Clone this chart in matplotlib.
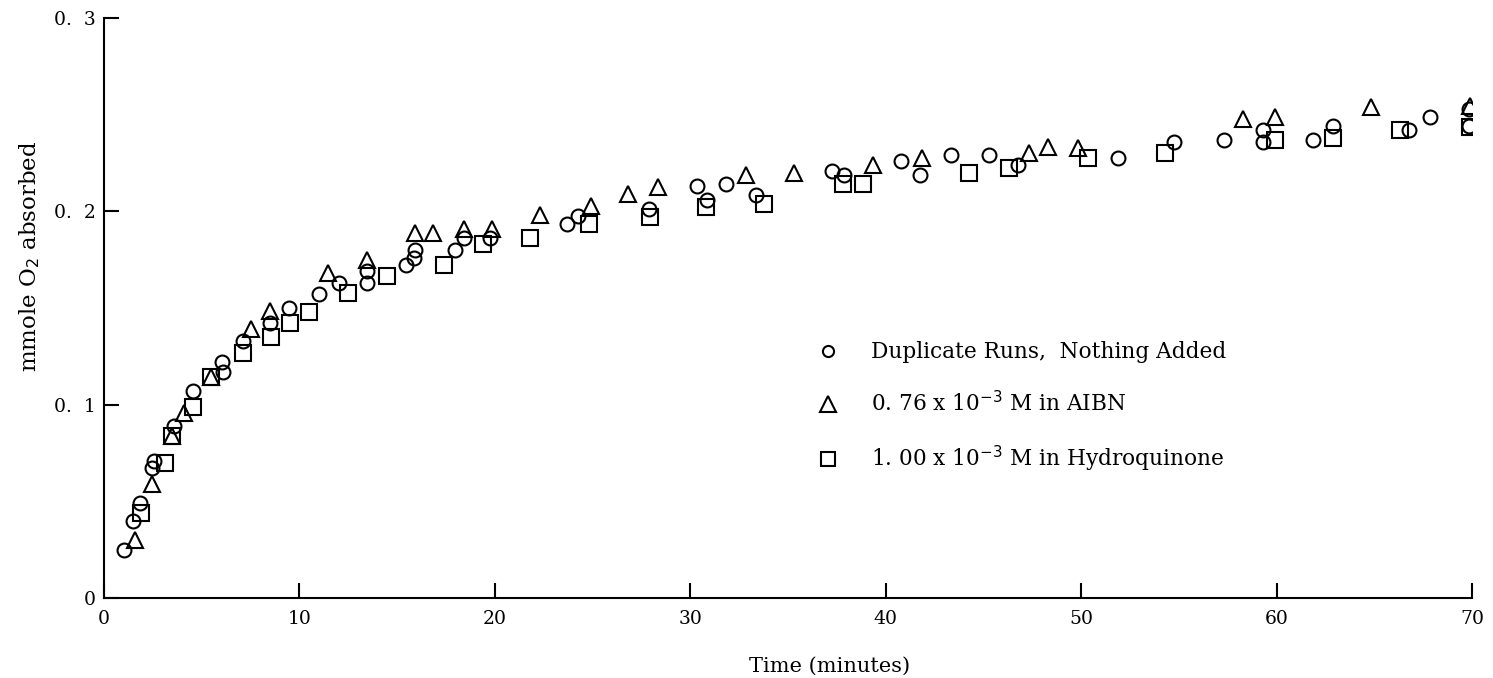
import numpy as np
import matplotlib
matplotlib.use("Agg")
import matplotlib.pyplot as plt
from matplotlib.lines import Line2D

plt.rcParams["font.family"] = ["DejaVu Serif"]

# duplicate runs, nothing added
circ_t = [1.03, 1.49, 1.86, 2.48, 2.55, 3.59, 4.56, 6.1, 6.05, 7.12, 8.49, 9.47,
          11.0, 12.03, 13.45, 13.45, 15.45, 15.84, 15.89, 17.94, 18.4, 19.77,
          23.7, 24.26, 27.88, 30.36, 30.87, 31.85, 33.35, 37.25, 37.88, 40.78,
          41.76, 43.34, 45.31, 46.76, 51.89, 54.74, 57.3, 59.32, 59.32, 61.85,
          62.9, 66.8, 67.86, 69.83, 69.83]
circ_o2 = [0.025, 0.040, 0.049, 0.067, 0.071, 0.089, 0.107, 0.117, 0.122, 0.133,
           0.142, 0.150, 0.157, 0.163, 0.169, 0.163, 0.172, 0.176, 0.180, 0.180,
           0.186, 0.186, 0.1935, 0.1976, 0.201, 0.213, 0.206, 0.214, 0.2085,
           0.221, 0.219, 0.226, 0.219, 0.229, 0.229, 0.224, 0.2275, 0.236,
           0.237, 0.242, 0.236, 0.237, 0.244, 0.242, 0.249, 0.253, 0.244]

# 0.76e-3 M AIBN
tri_t = [1.57, 2.46, 3.49, 4.1, 5.5, 7.52, 8.49, 11.45, 13.45, 15.92, 16.86, 18.4,
         19.85, 22.33, 24.9, 26.82, 28.36, 32.84, 35.31, 39.36, 41.86, 47.33,
         48.3, 49.84, 58.3, 59.92, 64.82, 69.88]
tri_o2 = [0.030, 0.059, 0.084, 0.0955, 0.1145, 0.139, 0.1486, 0.168, 0.175, 0.189,
          0.189, 0.191, 0.191, 0.198, 0.203, 0.209, 0.2125, 0.219, 0.220, 0.224,
          0.2275, 0.230, 0.2335, 0.2326, 0.248, 0.249, 0.254, 0.2545]

# 1.00e-3 M hydroquinone
sq_t = [1.88, 3.1, 3.49, 4.56, 5.5, 7.12, 8.53, 9.52, 10.49, 12.47, 14.47, 17.41,
        19.39, 21.82, 24.84, 27.92, 30.82, 33.78, 37.83, 38.82, 44.28, 46.33,
        50.35, 54.28, 59.92, 62.87, 66.32, 69.88]
sq_o2 = [0.044, 0.070, 0.084, 0.099, 0.1145, 0.1266, 0.135, 0.142, 0.148, 0.158,
         0.1666, 0.172, 0.183, 0.186, 0.1935, 0.197, 0.2024, 0.204, 0.214, 0.214,
         0.220, 0.2223, 0.2275, 0.230, 0.237, 0.238, 0.242, 0.2435]

labels = ["Duplicate Runs,  Nothing Added",
          r"0. 76 x 10$^{-3}$ M in AIBN",
          r"1. 00 x 10$^{-3}$ M in Hydroquinone"]
xticks = [0, 10, 20, 30, 40, 50, 60, 70]
yticks = [0, 0.1, 0.2, 0.3]
ytick_labels = ["0", "0.  1", "0.  2", "0.  3"]

fig = plt.figure(figsize=(14.93, 6.78), dpi=100)
ax = fig.add_axes([104 / 1493, 1 - 598 / 678, (1472 - 104) / 1493, (598 - 18) / 678])

mk = dict(linestyle="none", markerfacecolor="none", markeredgecolor="black", markeredgewidth=1.5)
ax.plot(circ_t, circ_o2, marker="o", markersize=10, **mk)
ax.plot(tri_t, tri_o2, marker="^", markersize=12, **mk)
ax.plot(sq_t, sq_o2, marker="s", markersize=11, **mk)

ax.set_xlim(0, 70)
ax.set_ylim(0, 0.3)
ax.spines["top"].set_visible(False)
ax.spines["right"].set_visible(False)
ax.spines["left"].set_linewidth(1.5)
ax.spines["bottom"].set_linewidth(1.5)
ax.set_xticks(xticks)
ax.set_yticks(yticks)
ax.set_yticklabels(ytick_labels)
ax.tick_params(direction="in", length=11, width=1.5, labelsize=13.5)
ax.tick_params(axis="x", pad=9)
ax.tick_params(axis="y", pad=6)

fig.text(30 / 1493, 1 - 256 / 678, r"mmole O$_2$ absorbed", rotation=90,
         ha="center", va="center", fontsize=16.5)
fig.text(830 / 1493, 1 - 666 / 678, "Time (minutes)", ha="center", va="center", fontsize=15)

handles = [Line2D([], [], marker="o", markersize=8, **mk),
           Line2D([], [], marker="^", markersize=11, **mk),
           Line2D([], [], marker="s", markersize=10, **mk)]
ax.legend(handles, labels, loc="upper left", bbox_to_anchor=(0.507, 0.476),
          frameon=False, fontsize=15.6, labelspacing=1.28, handletextpad=1.5,
          handlelength=1.0)

fig.savefig("out.png", dpi=100)
